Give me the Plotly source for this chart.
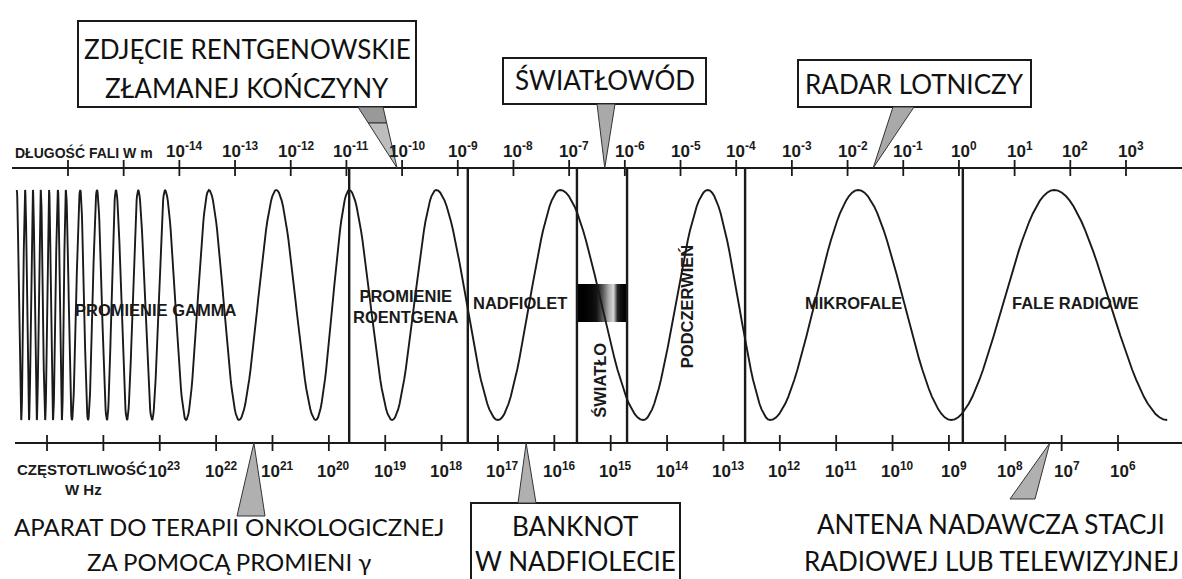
import numpy as np
import plotly.graph_objects as go

W, H = 1182, 579

# ---------------- data ----------------
# wavelength axis (top): exponents of 10, metres
wl_tick_exp = list(range(-16, 4))
wl_label_exp = list(range(-14, 4))
# frequency axis (bottom): exponents of 10, Hz
fq_tick_exp = list(range(25, 5, -1))
fq_label_exp = list(range(23, 5, -1))

top_axis_title = "DŁUGOŚĆ FALI W m"
bottom_axis_title = ["CZĘSTOTLIWOŚĆ", "W Hz"]

# region boundaries (wavelength exponent)
region_bounds_wl = [-10.95, -8.82, -6.86, -5.96, -3.84, 0.07]
region_names = ["PROMIENIE GAMMA", "PROMIENIE<br>ROENTGENA", "NADFIOLET",
                "ŚWIATŁO", "PODCZERWIEŃ", "MIKROFALE", "FALE RADIOWE"]
region_label_wl = [-14.42, -9.93, -7.88, -6.45, -4.88, -1.90, 2.10]

# crest / trough positions of the drawn wave (wavelength exponent), alternating, starting with a crest
wave_extrema_wl = [-16.92, -16.84, -16.77, -16.70, -16.63, -16.56, -16.49, -16.41,
                   -16.34, -16.27, -16.18, -16.11, -16.04, -15.93, -15.78, -15.64,
                   -15.48, -15.30, -15.14, -14.94, -14.74, -14.49, -14.26, -13.88,
                   -13.47, -12.93, -12.26, -11.55, -10.95, -10.18, -9.39, -8.28,
                   -7.16, -5.67, -4.51, -3.39, -1.81, -0.14, 1.71, 3.74]

# grey rendering of the visible spectrum band (0 = black, 255 = white)
spectrum_gray = [0, 0, 5, 10, 20, 60, 110, 170, 215, 40, 10, 0]

callout_top_texts = [["ZDJĘCIE RENTGENOWSKIE", "ZŁAMANEJ KOŃCZYNY"], ["ŚWIATŁOWÓD"], ["RADAR LOTNICZY"]]
callout_top_targets_wl = [-10.09, -6.36, -1.54]
callout_bottom_texts = [["APARAT DO TERAPII ONKOLOGICZNEJ", "ZA POMOCĄ PROMIENI γ"],
                        ["BANKNOT", "W NADFIOLECIE"],
                        ["ANTENA NADAWCZA STACJI", "RADIOWEJ LUB TELEWIZYJNEJ"]]
callout_bottom_targets_fq = [21.33, 16.50, 7.21]

# ---------------- layout constants ----------------
WL_RANGE = [-17.221, 4.006]
FQ_RANGE = [25.834, 4.865]
TOP_Y, BOT_Y = 168, 443
CREST_Y, TROUGH_Y = 190, 420
INK = "#1a1a1a"
GRAY = "#a9a9a9"
CALLOUT_FONT = "Lato, Open Sans, sans-serif"
BOLD_FONT = "Liberation Sans, Arial, sans-serif"


def wl_px(e):
    return (e - WL_RANGE[0]) / (WL_RANGE[1] - WL_RANGE[0]) * W


def fq_px(f):
    return (f - FQ_RANGE[0]) / (FQ_RANGE[1] - FQ_RANGE[0]) * W


def poly(xs, ys, color):
    return go.Scatter(x=list(xs) + [xs[0]], y=list(ys) + [ys[0]], mode="lines", fill="toself",
                      fillcolor=color, line=dict(color="#333", width=1), hoverinfo="skip",
                      xaxis="x3", yaxis="y")


fig = go.Figure()

# spectrum band
n = len(spectrum_gray)
x0, x1 = region_bounds_wl[2], region_bounds_wl[3]
d = (x1 - x0) / n
fig.add_trace(go.Heatmap(
    x=[x0 + d / 2 + i * d for i in range(n)], y=[293.5, 312.5],
    z=[spectrum_gray, spectrum_gray], zmin=0, zmax=255, zsmooth="best",
    colorscale=[[0, "#000000"], [1, "#ffffff"]], showscale=False, hoverinfo="skip",
    xaxis="x", yaxis="y"))

# wave
wx, wy = [], []
mid, amp = (CREST_Y + TROUGH_Y) / 2, (TROUGH_Y - CREST_Y) / 2
for i in range(len(wave_extrema_wl) - 1):
    a, b = wave_extrema_wl[i], wave_extrema_wl[i + 1]
    t = np.linspace(0, 1, 30)
    sgn = -1 if i % 2 == 0 else 1
    wx.extend(list(a + (b - a) * t))
    wy.extend(list(mid + sgn * amp * np.cos(np.pi * t)))
fig.add_trace(go.Scatter(x=wx, y=wy, mode="lines", line=dict(color=INK, width=1.9),
                         hoverinfo="skip", xaxis="x", yaxis="y"))

# region dividers
dx, dy = [], []
for e in region_bounds_wl:
    dx += [e, e, None]
    dy += [TOP_Y, BOT_Y, None]
fig.add_trace(go.Scatter(x=dx, y=dy, mode="lines", line=dict(color=INK, width=2.4),
                         hoverinfo="skip", xaxis="x", yaxis="y"))

# axis lines (pixel axis)
fig.add_trace(go.Scatter(x=[12, 1182, None, 15, 1182], y=[TOP_Y, TOP_Y, None, BOT_Y, BOT_Y],
                         mode="lines", line=dict(color=INK, width=1.8), hoverinfo="skip",
                         xaxis="x3", yaxis="y"))
# tick marks top
tx, ty = [], []
for e in wl_tick_exp:
    tx += [e, e, None]
    ty += [TOP_Y - 8, TOP_Y + 8, None]
fig.add_trace(go.Scatter(x=tx, y=ty, mode="lines", line=dict(color=INK, width=1.8),
                         hoverinfo="skip", xaxis="x", yaxis="y"))
# tick marks bottom
bx, by = [], []
for f in fq_tick_exp:
    bx += [f, f, None]
    by += [BOT_Y - 8, BOT_Y + 8, None]
fig.add_trace(go.Scatter(x=bx, y=by, mode="lines", line=dict(color=INK, width=1.8),
                         hoverinfo="skip", xaxis="x2", yaxis="y"))

annotations = []
for e in wl_label_exp:
    annotations.append(dict(x=e, y=150, xref="x", yref="y", xshift=5,
                            text=f"10<sup>{e}</sup>", showarrow=False,
                            font=dict(family=BOLD_FONT, size=17, color=INK, weight="bold")))
for f in fq_label_exp:
    annotations.append(dict(x=f, y=470, xref="x2", yref="y", xshift=5,
                            text=f"10<sup>{f}</sup>", showarrow=False,
                            font=dict(family=BOLD_FONT, size=17, color=INK, weight="bold")))
annotations.append(dict(x=13, y=152, xref="x3", yref="y", xanchor="left", text=top_axis_title,
                        showarrow=False, font=dict(family=BOLD_FONT, size=14, color=INK, weight="bold")))
annotations.append(dict(x=15, y=469, xref="x3", yref="y", xanchor="left", text=bottom_axis_title[0],
                        showarrow=False, font=dict(family=BOLD_FONT, size=15, color=INK, weight="bold")))
annotations.append(dict(x=83, y=489, xref="x3", yref="y", text=bottom_axis_title[1],
                        showarrow=False, font=dict(family=BOLD_FONT, size=15, color=INK, weight="bold")))

# region labels
region_label_y = [310, 306, 303, 380, 307, 303, 303]
for name, e, yy in zip(region_names, region_label_wl, region_label_y):
    vertical = name in ("ŚWIATŁO", "PODCZERWIEŃ")
    annotations.append(dict(x=e, y=yy, xref="x", yref="y", text=name, showarrow=False,
                            textangle=-90 if vertical else 0,
                            font=dict(family=BOLD_FONT, size=16.5, color=INK, weight="bold")))

shapes = []
# top callouts: box (x0, x1, y0, y1), text line ys, pointer base
top_boxes = [(78, 416, 21, 107), (503, 706, 58, 104), (798, 1031, 60, 107)]
top_line_y = [[49, 88], [80], [84]]
top_bases = [(358, 383, 107), (597, 615, 104), (893, 914, 107)]
for (bx0, bx1, by0, by1), lines, ys in zip(top_boxes, callout_top_texts, top_line_y):
    shapes.append(dict(type="rect", xref="x3", yref="y", x0=bx0, x1=bx1, y0=by0, y1=by1,
                       line=dict(color=INK, width=2), fillcolor="white", layer="below"))
    for txt, yy in zip(lines, ys):
        annotations.append(dict(x=(bx0 + bx1) / 2, y=yy, xref="x3", yref="y", text=txt,
                                showarrow=False, font=dict(family=CALLOUT_FONT, size=26, color="#111")))
for k, ((p0, p1, py), tgt) in enumerate(zip(top_bases, callout_top_targets_wl)):
    ax = wl_px(tgt)
    if k == 0:
        # two-tone pointer: darker upper band, lighter tip
        s = (123 - py) / (TOP_Y - py)
        q0, q1 = p0 + (ax - p0) * s, p1 + (ax - p1) * s
        fig.add_trace(poly([p0, p1, q1, q0], [py, py, 123, 123], "#999999"))
        fig.add_trace(poly([q0, q1, ax], [123, 123, TOP_Y], "#bdbdbd"))
    else:
        fig.add_trace(poly([p0, p1, ax], [py, py, TOP_Y], GRAY))

# bottom callouts
bottom_centers = [229, 575, 991]
bottom_line_y = [[526, 561], [526, 561], [524, 561]]
bottom_sizes = [24, 26, 26]
for lines, cx, ys, sz in zip(callout_bottom_texts, bottom_centers, bottom_line_y, bottom_sizes):
    for txt, yy in zip(lines, ys):
        annotations.append(dict(x=cx, y=yy, xref="x3", yref="y", text=txt, showarrow=False,
                                font=dict(family=CALLOUT_FONT, size=sz, color="#111")))
shapes.append(dict(type="rect", xref="x3", yref="y", x0=471, x1=680, y0=503, y1=600,
                   line=dict(color=INK, width=2), fillcolor="white", layer="below"))
bottom_bases = [(237, 265, 516), (518, 536, 503), (1010, 1035, 499)]
for (p0, p1, py), tgt in zip(bottom_bases, callout_bottom_targets_fq):
    ax = fq_px(tgt)
    fig.add_trace(poly([p0, p1, ax], [py, py, BOT_Y], "#b0b0b0"))

fig.update_layout(
    width=W, height=H, margin=dict(l=0, r=0, t=0, b=0),
    paper_bgcolor="white", plot_bgcolor="white", showlegend=False,
    xaxis=dict(range=WL_RANGE, visible=False, fixedrange=True),
    xaxis2=dict(range=FQ_RANGE, visible=False, overlaying="x", anchor="y", fixedrange=True),
    xaxis3=dict(range=[0, W], visible=False, overlaying="x", anchor="y", fixedrange=True),
    yaxis=dict(range=[H, 0], visible=False, fixedrange=True),
    shapes=shapes, annotations=annotations,
)

fig.write_html("out.html", config={"displayModeBar": False},
               post_script="document.body.style.margin='0px';document.body.style.overflow='hidden';")
